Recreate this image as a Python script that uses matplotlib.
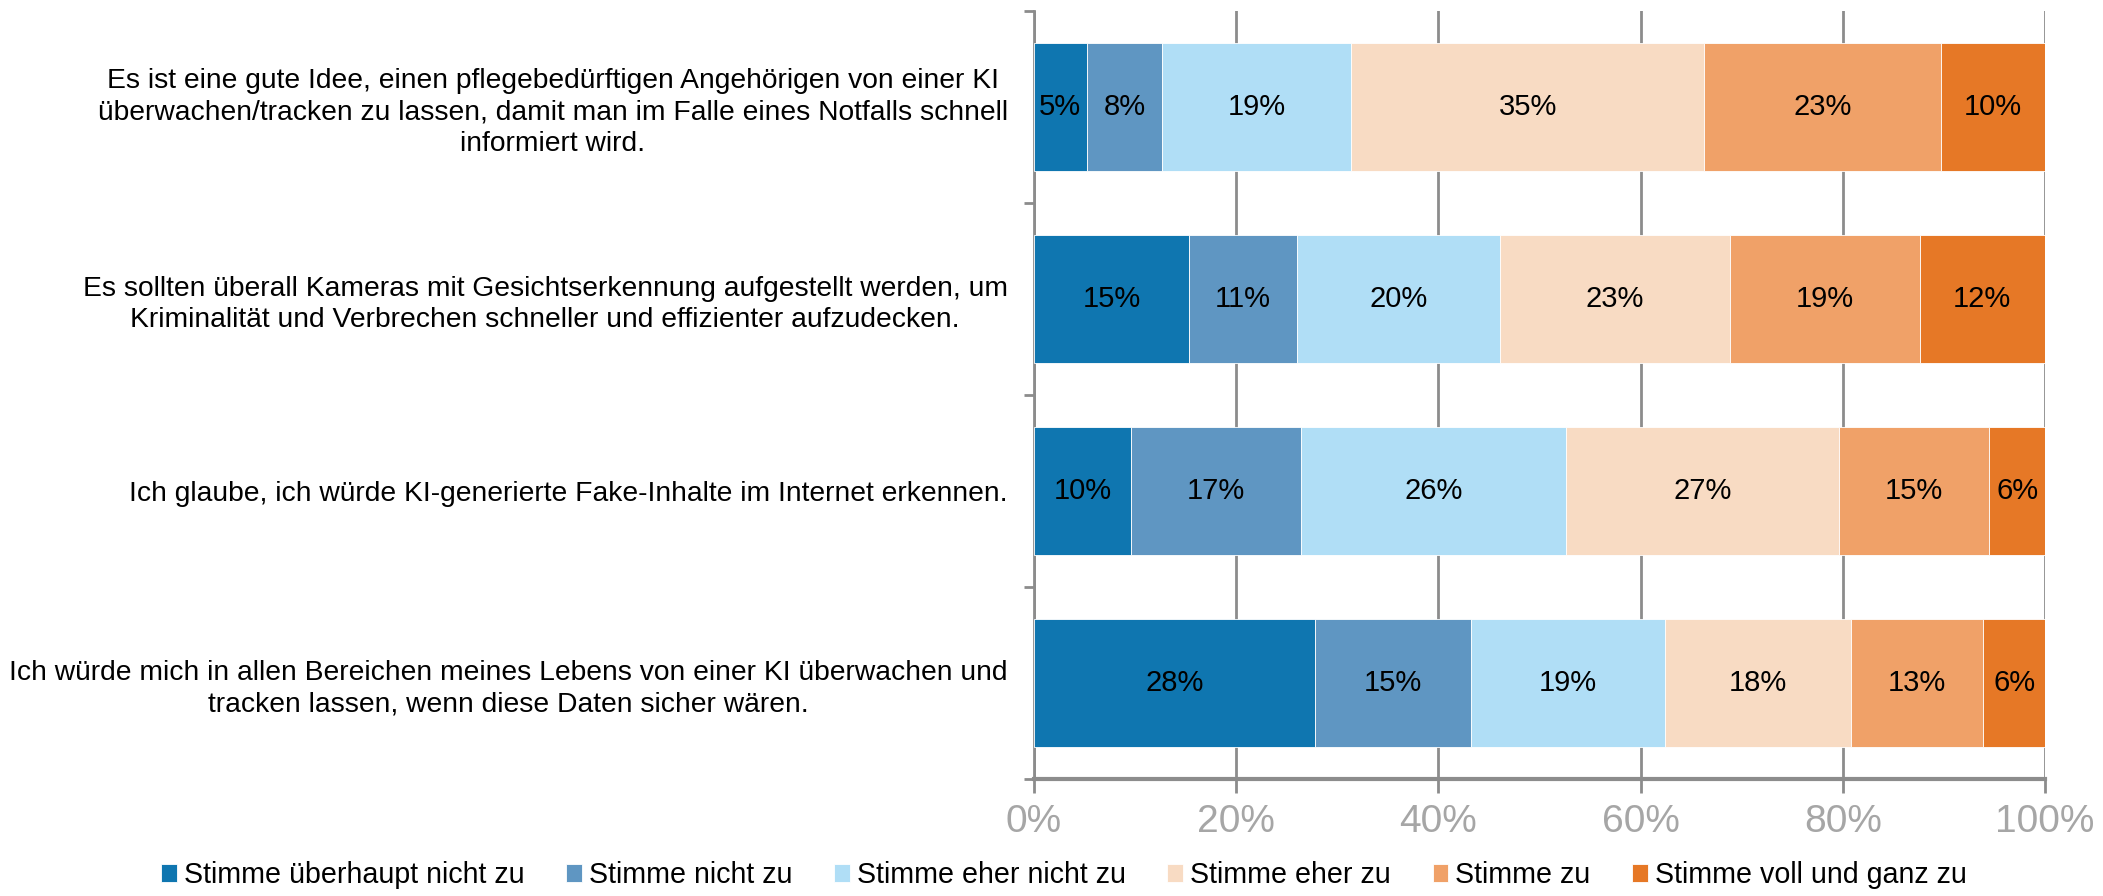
import matplotlib
matplotlib.use("Agg")
import matplotlib.pyplot as plt
import numpy as np

plt.rcParams['font.family'] = ['Liberation Sans', 'DejaVu Sans']

categories = [
    "Es ist eine gute Idee, einen pflegebedürftigen Angehörigen von einer KI\nüberwachen/tracken zu lassen, damit man im Falle eines Notfalls schnell\ninformiert wird.",
    "Es sollten überall Kameras mit Gesichtserkennung aufgestellt werden, um\nKriminalität und Verbrechen schneller und effizienter aufzudecken.",
    "Ich glaube, ich würde KI-generierte Fake-Inhalte im Internet erkennen.",
    "Ich würde mich in allen Bereichen meines Lebens von einer KI überwachen und\ntracken lassen, wenn diese Daten sicher wären.",
]
series_names = [
    "Stimme überhaupt nicht zu",
    "Stimme nicht zu",
    "Stimme eher nicht zu",
    "Stimme eher zu",
    "Stimme zu",
    "Stimme voll und ganz zu",
]
s_ueberhaupt_nicht = [5.2, 15.3, 9.6, 27.8]
s_nicht = [7.5, 10.7, 16.8, 15.4]
s_eher_nicht = [18.7, 20.1, 26.2, 19.2]
s_eher = [34.9, 22.7, 27.0, 18.4]
s_zu = [23.4, 18.8, 14.9, 13.1]
s_voll = [10.3, 12.4, 5.5, 6.1]
xtick_values = [0, 20, 40, 60, 80, 100]
xtick_labels = ["0%", "20%", "40%", "60%", "80%", "100%"]

series = [s_ueberhaupt_nicht, s_nicht, s_eher_nicht, s_eher, s_zu, s_voll]
colors = ["#0F76B0", "#5F96C2", "#B0DEF6", "#F8DBC3", "#F0A168", "#E67826"]

fig = plt.figure(figsize=(21.03, 8.96), dpi=100)
ax = fig.add_axes([0.4917, 0.1306, 0.9724 - 0.4917, 0.988 - 0.1306])

y = np.arange(len(categories))
left = np.zeros(len(categories))
for vals, name, col in zip(series, series_names, colors):
    vals = np.array(vals)
    ax.barh(y, vals, left=left, height=0.667, color=col, label=name,
            edgecolor='white', linewidth=0.6, zorder=3)
    for yi, l, v in zip(y, left, vals):
        ax.text(l + v / 2, yi, f"{round(v):.0f}%", ha='center', va='center',
                fontsize=21, color='black', zorder=4)
    left += vals

ax.set_xlim(0, 100)
ax.set_ylim(3.5, -0.5)
ax.set_xticks(xtick_values)
ax.set_xticklabels(xtick_labels)
ax.set_yticks(np.arange(-0.5, 4, 1))
ax.set_yticklabels([])
ax.set_yticks(y, minor=True)
ax.set_yticklabels(categories, minor=True, fontsize=20.3, multialignment='center',
                   linespacing=1.27)
ax.tick_params(axis='y', which='minor', length=0, pad=19)
ax.tick_params(axis='y', which='major', length=7, width=2, color='#8C8C8C', direction='out')
ax.tick_params(axis='x', length=10, width=2, color='#8C8C8C', labelsize=28,
               labelcolor='#A6A6A6', pad=8)
ax.grid(axis='x', color='#8C8C8C', linewidth=2, zorder=0)
ax.set_axisbelow(True)
for s in ['top', 'right']:
    ax.spines[s].set_visible(False)
ax.spines['left'].set_color('#8C8C8C')
ax.spines['left'].set_linewidth(2)
ax.spines['bottom'].set_color('#8C8C8C')
ax.spines['bottom'].set_linewidth(3)

fig.legend(loc='lower center', bbox_to_anchor=(0.506, -0.021), ncol=6, frameon=False,
           fontsize=20.6, handlelength=0.55, handleheight=0.55, handletextpad=0.25,
           columnspacing=1.45)

fig.savefig("out.png", dpi=100)
